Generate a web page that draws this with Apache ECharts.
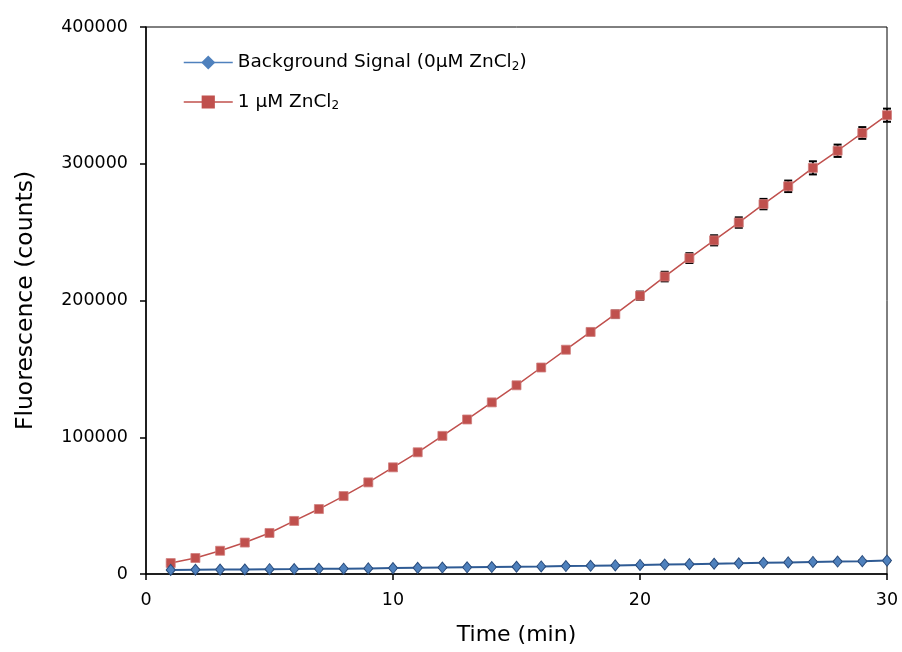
<!DOCTYPE html>
<html>
<head>
<meta charset="utf-8">
<script src="https://cdn.jsdelivr.net/npm/echarts@6/dist/echarts.min.js"></script>
<style>
  html, body { margin: 0; padding: 0; background: #fff; }
  #main { width: 902px; height: 652px; }
</style>
</head>
<body>
<div id="main"></div>
<script>
// 时间（分钟）
var times = [1, 2, 3, 4, 5, 6, 7, 8, 9, 10, 11, 12, 13, 14, 15,
    16, 17, 18, 19, 20, 21, 22, 23, 24, 25, 26, 27, 28, 29, 30];
// 背景信号 0μM ZnCl2
var bgValues = [3000, 3100, 3200, 3300, 3500, 3600, 3800, 3900, 4100, 4300,
    4500, 4700, 4900, 5100, 5300, 5500, 5800, 6000, 6300, 6600,
    6900, 7200, 7500, 7800, 8200, 8500, 8800, 9100, 9400, 9800];
var bgErrors = [200, 200, 200, 200, 200, 200, 200, 200, 200, 250,
    250, 250, 250, 250, 300, 300, 300, 300, 300, 350,
    350, 350, 400, 400, 400, 450, 450, 500, 500, 500];
// 1 μM ZnCl2
var znValues = [8000, 11700, 17000, 23000, 30000, 38800, 47500, 57000, 67000, 78000,
    89000, 101000, 113000, 125500, 138000, 151000, 164000, 177000, 190000, 203500,
    217500, 231000, 244000, 257000, 270500, 283500, 297000, 309500, 322500, 335500];
var znErrors = [800, 900, 900, 1000, 1000, 1100, 1100, 1200, 1200, 1300,
    1400, 1500, 1500, 1600, 1800, 2000, 2000, 2300, 2600, 3000,
    3500, 3600, 3700, 3800, 3800, 4200, 4800, 4500, 4300, 4800];

var bgName = 'bg';
var znName = 'zn';

function pairs(vals) {
    var out = [];
    for (var i = 0; i < times.length; i++) {
        out.push([times[i], vals[i]]);
    }
    return out;
}

function errPairs(vals, errs) {
    var out = [];
    for (var i = 0; i < times.length; i++) {
        out.push([times[i], vals[i] - errs[i], vals[i] + errs[i]]);
    }
    return out;
}

function renderErr(params, api) {
    var x = api.value(0);
    var lo = api.coord([x, api.value(1)]);
    var hi = api.coord([x, api.value(2)]);
    var cap = 4;
    var st = { stroke: '#000', lineWidth: 2 };
    return {
        type: 'group',
        children: [
            { type: 'line', shape: { x1: lo[0], y1: lo[1], x2: hi[0], y2: hi[1] }, style: st },
            { type: 'line', shape: { x1: lo[0] - cap, y1: lo[1], x2: lo[0] + cap, y2: lo[1] }, style: st },
            { type: 'line', shape: { x1: hi[0] - cap, y1: hi[1], x2: hi[0] + cap, y2: hi[1] }, style: st }
        ]
    };
}

var myChart = echarts.init(document.getElementById('main'));
var font = 'DejaVu Sans, Verdana, sans-serif';
var option = {
    animation: false,
    backgroundColor: '#fff',
    grid: {
        left: 146, right: 15, top: 27, bottom: 78,
        show: true, borderColor: '#000', borderWidth: 1, backgroundColor: 'transparent'
    },
    legend: {
        orient: 'vertical',
        left: 178,
        top: 48,
        itemWidth: 49,
        itemHeight: 14,
        itemGap: 20,
        data: [
            { name: bgName, lineStyle: { color: '#4F81BD', width: 1.5 }, itemStyle: { color: '#4F81BD', borderColor: '#4F81BD' } },
            { name: znName, lineStyle: { color: '#C0504D', width: 1.5 }, itemStyle: { color: '#C0504D', borderColor: '#C0504D' } }
        ],
        formatter: function (name) {
            if (name === bgName) {
                return '{a|Background Signal (0μM ZnCl}{s|2}{a|)}';
            }
            return '{a|1 μM ZnCl}{s|2}';
        },
        textStyle: {
            fontFamily: font,
            rich: {
                a: { fontSize: 18.5, fontFamily: font, color: '#000' },
                s: { fontSize: 12, fontFamily: font, color: '#000', verticalAlign: 'bottom', padding: [8, 0, 0, 0] }
            }
        }
    },
    xAxis: {
        type: 'value',
        min: 0, max: 30, interval: 10,
        name: 'Time (min)',
        nameLocation: 'middle',
        nameGap: 50,
        nameTextStyle: { fontSize: 22, fontFamily: font, color: '#000' },
        axisLine: { lineStyle: { color: '#000', width: 1.5 } },
        axisTick: { inside: false, length: 6, lineStyle: { color: '#000', width: 1.5 } },
        axisLabel: { fontSize: 17.5, fontFamily: font, color: '#000', margin: 17 },
        splitLine: { show: false }
    },
    yAxis: {
        type: 'value',
        min: 0, max: 400000, interval: 100000,
        name: 'Fluorescence (counts)',
        nameLocation: 'middle',
        nameGap: 108,
        nameTextStyle: { fontSize: 23.5, fontFamily: font, color: '#000' },
        axisLine: { show: true, lineStyle: { color: '#000', width: 1.5 } },
        axisTick: { show: true, inside: false, length: 6, lineStyle: { color: '#000', width: 1.5 } },
        axisLabel: {
            fontSize: 17.5, fontFamily: font, color: '#000', margin: 18,
            formatter: function (v) { return String(v); }
        },
        splitLine: { show: false }
    },
    series: [
        {
            name: 'err-zn',
            type: 'custom',
            renderItem: renderErr,
            data: errPairs(znValues, znErrors),
            encode: { x: 0, y: [1, 2] },
            z: 1
        },
        {
            name: 'err-bg',
            type: 'custom',
            renderItem: renderErr,
            data: errPairs(bgValues, bgErrors),
            encode: { x: 0, y: [1, 2] },
            z: 1
        },
        {
            name: znName,
            type: 'line',
            data: pairs(znValues),
            symbol: 'rect',
            symbolSize: 9,
            lineStyle: { color: '#C0504D', width: 1.5 },
            itemStyle: { color: '#C0504D', borderColor: '#D07F7D', borderWidth: 0.8 },
            z: 3
        },
        {
            name: bgName,
            type: 'line',
            data: pairs(bgValues),
            symbol: 'diamond',
            symbolSize: [9, 11],
            lineStyle: { color: '#2F5B94', width: 2 },
            itemStyle: { color: '#4F81BD', borderColor: '#2A4D7E', borderWidth: 1 },
            z: 4
        }
    ]
};
myChart.setOption(option);
</script>
</body>
</html>
